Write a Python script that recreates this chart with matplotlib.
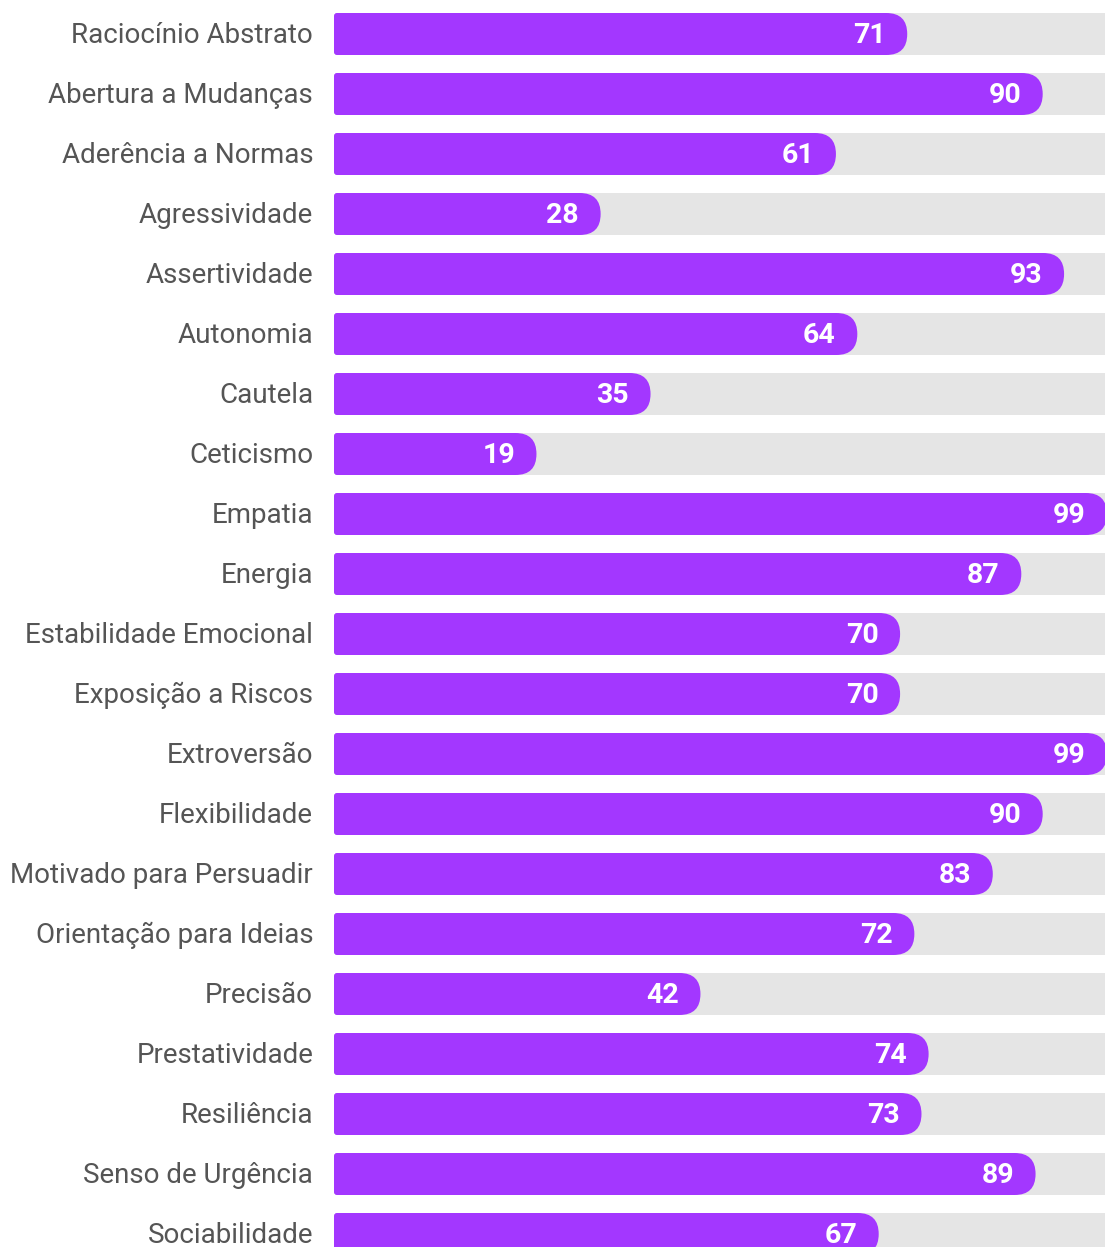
import matplotlib
matplotlib.use("Agg")
import matplotlib.pyplot as plt
from matplotlib.patches import FancyBboxPatch

traits = [
    "Raciocínio Abstrato", "Abertura a Mudanças", "Aderência a Normas",
    "Agressividade", "Assertividade", "Autonomia", "Cautela", "Ceticismo",
    "Empatia", "Energia", "Estabilidade Emocional", "Exposição a Riscos",
    "Extroversão", "Flexibilidade", "Motivado para Persuadir",
    "Orientação para Ideias", "Precisão", "Prestatividade", "Resiliência",
    "Senso de Urgência", "Sociabilidade",
]
scores = [71, 90, 61, 28, 93, 64, 35, 19, 99, 87, 70, 70, 99, 90, 83, 72,
          42, 74, 73, 89, 67]

W, H = 1105, 1247
fig = plt.figure(figsize=(W / 100, H / 100), dpi=100)
ax_left = 334
ax = fig.add_axes([ax_left / W, 0, 1 - ax_left / W, 1])

px_per_unit = 7.13          # horizontal pixels per score point
x0 = -67 / px_per_unit      # bars start a bit before 0
x1 = x0 + (W - ax_left) / px_per_unit
row_px = 60
ax.set_xlim(x0, x1)
ax.set_ylim((H - 34) / row_px, -34 / row_px)
ax.axis("off")

bar_h = 42 / row_px
aspect = (1 / row_px) / (1 / px_per_unit)   # y-units per x-unit for equal pixels
big_r = 21 / px_per_unit
small_r = 3 / px_per_unit

purple = "#A337FF"
track = "#E5E5E5"

for i, (name, v) in enumerate(zip(traits, scores)):
    y = i - bar_h / 2
    ax.add_patch(FancyBboxPatch((x0, y), x1 - x0 + 5, bar_h,
                                boxstyle=f"round,pad=0,rounding_size={small_r}",
                                mutation_aspect=aspect, fc=track, ec="none"))
    ax.add_patch(FancyBboxPatch((x0, y), v - x0, bar_h,
                                boxstyle=f"round,pad=0,rounding_size={big_r}",
                                mutation_aspect=aspect, fc=purple, ec="none"))
    ax.add_patch(FancyBboxPatch((x0, y), v - x0 - big_r, bar_h,
                                boxstyle=f"round,pad=0,rounding_size={small_r}",
                                mutation_aspect=aspect, fc=purple, ec="none"))
    ax.annotate(str(v), (v, i), xytext=(-15.5, -1.2), textcoords="offset points",
                ha="right", va="center", color="white", fontsize=20.5,
                fontweight="bold", family="Roboto", annotation_clip=False)
    ax.annotate(name, (x0, i), xytext=(-15, -1.2), textcoords="offset points",
                ha="right", va="center", color="#555555", fontsize=20,
                family="Roboto", annotation_clip=False)

fig.savefig("out.png", dpi=100)
